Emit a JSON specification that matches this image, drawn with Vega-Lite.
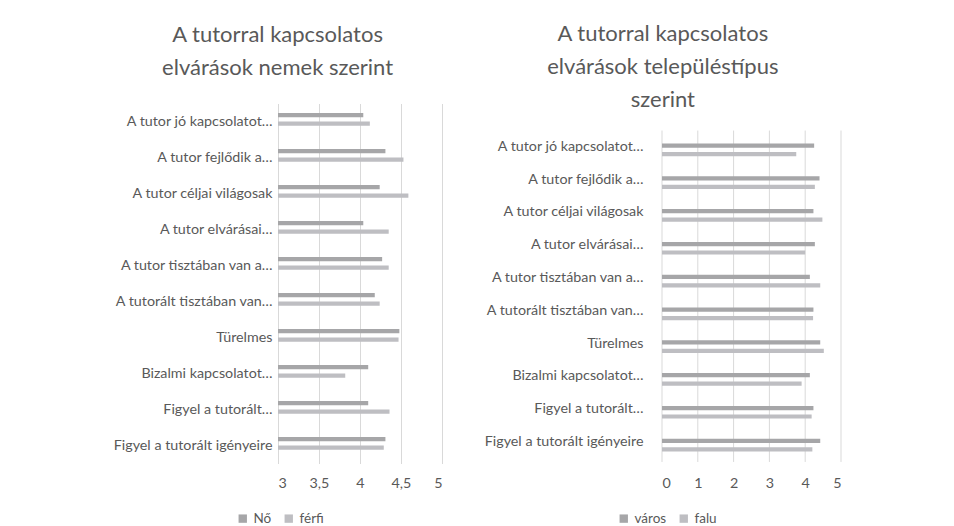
{
  "$schema": "https://vega.github.io/schema/vega-lite/v6.json",
  "padding": {"left": 113, "top": 22.5, "right": 5, "bottom": 0},
  "background": "white",
  "spacing": 42,
  "datasets": {
    "nem": [
      {"item": "A tutor jó kapcsolatot…", "group": "Nő", "value": 4.04},
      {"item": "A tutor jó kapcsolatot…", "group": "férfi", "value": 4.12},
      {"item": "A tutor fejlődik a…", "group": "Nő", "value": 4.31},
      {"item": "A tutor fejlődik a…", "group": "férfi", "value": 4.53},
      {"item": "A tutor céljai világosak", "group": "Nő", "value": 4.24},
      {"item": "A tutor céljai világosak", "group": "férfi", "value": 4.59},
      {"item": "A tutor elvárásai…", "group": "Nő", "value": 4.04},
      {"item": "A tutor elvárásai…", "group": "férfi", "value": 4.35},
      {"item": "A tutor tisztában van a…", "group": "Nő", "value": 4.27},
      {"item": "A tutor tisztában van a…", "group": "férfi", "value": 4.35},
      {"item": "A tutorált tisztában van…", "group": "Nő", "value": 4.18},
      {"item": "A tutorált tisztában van…", "group": "férfi", "value": 4.24},
      {"item": "Türelmes", "group": "Nő", "value": 4.48},
      {"item": "Türelmes", "group": "férfi", "value": 4.47},
      {"item": "Bizalmi kapcsolatot…", "group": "Nő", "value": 4.10},
      {"item": "Bizalmi kapcsolatot…", "group": "férfi", "value": 3.82},
      {"item": "Figyel a tutorált…", "group": "Nő", "value": 4.10},
      {"item": "Figyel a tutorált…", "group": "férfi", "value": 4.36},
      {"item": "Figyel a tutorált igényeire", "group": "Nő", "value": 4.31},
      {"item": "Figyel a tutorált igényeire", "group": "férfi", "value": 4.29}
    ],
    "telep": [
      {"item": "A tutor jó kapcsolatot…", "group": "város", "value": 4.25},
      {"item": "A tutor jó kapcsolatot…", "group": "falu", "value": 3.75},
      {"item": "A tutor fejlődik a…", "group": "város", "value": 4.40},
      {"item": "A tutor fejlődik a…", "group": "falu", "value": 4.27},
      {"item": "A tutor céljai világosak", "group": "város", "value": 4.23},
      {"item": "A tutor céljai világosak", "group": "falu", "value": 4.48},
      {"item": "A tutor elvárásai…", "group": "város", "value": 4.27},
      {"item": "A tutor elvárásai…", "group": "falu", "value": 4.00},
      {"item": "A tutor tisztában van a…", "group": "város", "value": 4.13},
      {"item": "A tutor tisztában van a…", "group": "falu", "value": 4.42},
      {"item": "A tutorált tisztában van…", "group": "város", "value": 4.23},
      {"item": "A tutorált tisztában van…", "group": "falu", "value": 4.22},
      {"item": "Türelmes", "group": "város", "value": 4.42},
      {"item": "Türelmes", "group": "falu", "value": 4.52},
      {"item": "Bizalmi kapcsolatot…", "group": "város", "value": 4.13},
      {"item": "Bizalmi kapcsolatot…", "group": "falu", "value": 3.90},
      {"item": "Figyel a tutorált…", "group": "város", "value": 4.23},
      {"item": "Figyel a tutorált…", "group": "falu", "value": 4.18},
      {"item": "Figyel a tutorált igényeire", "group": "város", "value": 4.42},
      {"item": "Figyel a tutorált igényeire", "group": "falu", "value": 4.20}
    ],
    "grid": [{"tick": 0}, {"tick": 1}, {"tick": 2}, {"tick": 3}, {"tick": 4}, {"tick": 5}]
  },
  "hconcat": [
    {
      "data": {"name": "nem"},
      "width": 164,
      "height": 360,
      "title": {"text": ["A tutorral kapcsolatos", "elvárások nemek szerint"], "offset": 24},
      "mark": {"type": "bar"},
      "encoding": {
        "y": {"field": "item", "type": "nominal", "sort": null, "title": null,
              "scale": {"paddingInner": 0.53, "paddingOuter": 0.265},
              "axis": {"labelPadding": 6}},
        "yOffset": {"field": "group", "type": "nominal", "sort": ["Nő", "férfi"], "scale": {"paddingInner": 0, "paddingOuter": 0}},
        "x": {"field": "value", "type": "quantitative", "stack": null, "title": null,
              "scale": {"domain": [3, 5], "zero": false, "nice": false},
              "axis": {"values": [3, 3.5, 4, 4.5, 5], "grid": true, "labelExpr": "replace(format(datum.value, '~g'), '.', ',')"}},
        "x2": {"datum": 3},
        "color": {"field": "group", "type": "nominal", "sort": ["Nő", "férfi"], "title": null,
                  "scale": {"domain": ["Nő", "férfi"], "range": ["#a6a6a8", "#bebec2"]},
                  "legend": {"orient": "none", "direction": "horizontal", "legendX": -42, "legendY": 408}}
      }
    },
    {
      "width": 179,
      "height": 360,
      "title": {"text": ["A tutorral kapcsolatos", "elvárások településtípus", "szerint"], "offset": -8},
      "layer": [
        {
          "data": {"name": "grid"},
          "mark": {"type": "rule", "color": "#d9d9d9", "strokeWidth": 1},
          "encoding": {
            "x": {"field": "tick", "type": "quantitative"},
            "y": {"datum": "A tutor jó kapcsolatot…", "type": "nominal", "bandPosition": -0.58},
            "y2": {"datum": "Figyel a tutorált igényeire", "bandPosition": 1.82}
          }
        },
        {
          "data": {"name": "telep"},
          "mark": {"type": "bar"},
          "encoding": {
            "y": {"field": "item", "type": "nominal", "sort": null, "title": null},
            "yOffset": {"field": "group", "type": "nominal", "sort": ["város", "falu"], "scale": {"paddingInner": 0, "paddingOuter": 0}},
            "x": {"field": "value", "type": "quantitative", "stack": null},
            "color": {"field": "group", "type": "nominal", "sort": ["város", "falu"], "title": null,
                      "scale": {"domain": ["város", "falu"], "range": ["#a6a6a8", "#bebec2"]},
                      "legend": {"orient": "none", "direction": "horizontal", "legendX": -45, "legendY": 408}}
          }
        }
      ],
      "encoding": {
        "y": {"type": "nominal", "title": null,
              "scale": {"domain": ["A tutor jó kapcsolatot…", "A tutor fejlődik a…", "A tutor céljai világosak", "A tutor elvárásai…", "A tutor tisztában van a…", "A tutorált tisztában van…", "Türelmes", "Bizalmi kapcsolatot…", "Figyel a tutorált…", "Figyel a tutorált igényeire"],
                        "paddingInner": 0.54, "paddingOuter": 0.7576, "align": 0.72},
              "axis": {"labelPadding": 19}},
        "x": {"type": "quantitative", "title": null,
              "scale": {"domain": [0, 5], "nice": false},
              "axis": {"values": [0, 1, 2, 3, 4, 5], "grid": false}}
      }
    }
  ],
  "resolve": {"scale": {"color": "independent", "x": "independent", "y": "independent"}, "legend": {"color": "independent"}},
  "config": {
    "font": "Lato",
    "view": {"stroke": null},
    "title": {"fontSize": 22, "fontWeight": "normal", "color": "#595959", "lineHeight": 33, "anchor": "middle", "frame": "bounds"},
    "axis": {"domain": false, "ticks": false, "labelFontSize": 14.3, "labelColor": "#595959", "labelLimit": 300},
    "axisX": {"gridColor": "#d9d9d9", "labelPadding": 13},
    "axisY": {"grid": false},
    "legend": {"symbolType": "square", "symbolSize": 70, "labelFontSize": 13.5, "labelColor": "#595959", "symbolStrokeWidth": 0, "columnPadding": 10, "symbolOpacity": 1}
  }
}
